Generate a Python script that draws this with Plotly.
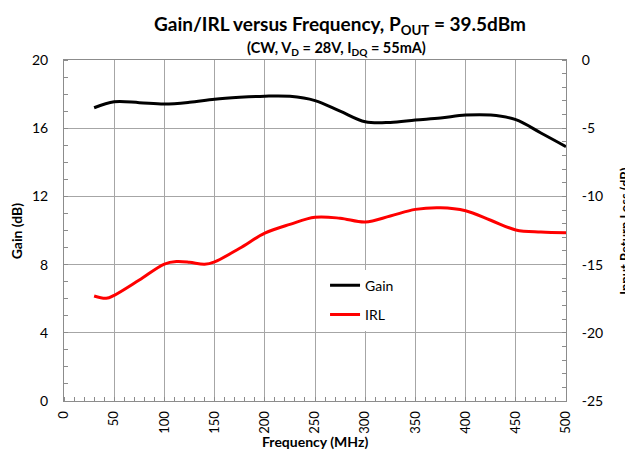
import plotly.graph_objects as go

# ---- data ----
gain_freq = [30, 50, 75, 100, 125, 150, 175, 200, 225, 250, 275, 300, 325, 350, 375, 400, 425, 450, 475, 500]
gain_db = [17.2, 17.55, 17.5, 17.42, 17.52, 17.7, 17.81, 17.88, 17.87, 17.62, 17.0, 16.38, 16.34, 16.48, 16.6, 16.77, 16.77, 16.5, 15.72, 14.92]

irl_freq = [30, 42, 50, 75, 100, 112, 125, 140, 150, 175, 200, 225, 250, 275, 300, 325, 350, 375, 400, 425, 450, 475, 500]
irl_db = [-17.3, -17.47, -17.25, -16.13, -14.96, -14.78, -14.83, -14.98, -14.8, -13.8, -12.7, -12.05, -11.53, -11.6, -11.88, -11.44, -10.95, -10.83, -11.05, -11.75, -12.46, -12.61, -12.66]

x_ticks = [0, 50, 100, 150, 200, 250, 300, 350, 400, 450, 500]
gain_ticks = [0, 4, 8, 12, 16, 20]
irl_ticks = [-25, -20, -15, -10, -5, 0]
irl_ticktext = ["-25", "-20", "-15", "-10", "-5", "0"]

FONT = "Lato"
GRID = "#a6a6a6"
LINE = "#8c8c8c"

fig = go.Figure()
fig.add_trace(go.Scatter(x=gain_freq, y=gain_db, name="Gain", mode="lines",
                         line=dict(color="black", width=3, shape="spline"),
                         legendgroup="g1"))
fig.add_trace(go.Scatter(x=irl_freq, y=irl_db, name="IRL", mode="lines",
                         line=dict(color="#ff0000", width=3, shape="spline"),
                         yaxis="y2", legendgroup="g2"))

# the page body has an 8px margin, so the figure is laid out 8px up/left
fig.update_layout(
    width=625, height=447,
    margin=dict(l=56, r=67, t=52, b=54),
    paper_bgcolor="white", plot_bgcolor="white",
    font=dict(family=FONT, size=14, color="black"),
    showlegend=True,
    legend=dict(x=0.52, y=0.385, xanchor="left", yanchor="top",
                bgcolor="white", borderwidth=0, font=dict(size=14),
                traceorder="grouped", tracegroupgap=8),
    xaxis=dict(range=[0, 500], tickvals=x_ticks, tickangle=-90,
               showgrid=True, gridcolor=GRID, gridwidth=1,
               showline=True, linecolor=LINE, linewidth=1, mirror=True,
               ticks="", zeroline=False, ticklabelstandoff=4,
               minor=dict(dtick=10, ticks="inside", ticklen=4, tickcolor=LINE, showgrid=False),
               tickfont=dict(size=13)),
    yaxis=dict(range=[0, 20], tickvals=gain_ticks,
               showgrid=True, gridcolor=GRID, gridwidth=1,
               showline=True, linecolor=LINE, linewidth=1,
               ticks="", zeroline=False, ticklabelstandoff=12,
               minor=dict(dtick=1, ticks="inside", ticklen=4, tickcolor=LINE, showgrid=False),
               tickfont=dict(size=14)),
    yaxis2=dict(range=[-25, 0], tickvals=irl_ticks, ticktext=irl_ticktext,
                overlaying="y", side="right", showgrid=False,
                showline=True, linecolor=LINE, linewidth=1,
                ticks="", zeroline=False, ticklabelstandoff=12,
                minor=dict(dtick=1, ticks="inside", ticklen=4, tickcolor=LINE, showgrid=False),
                tickfont=dict(size=14)),
    annotations=[
        dict(text="<b>Gain/IRL versus Frequency, P<sub>OUT</sub> = 39.5dBm</b>",
             xref="paper", yref="paper", x=0.549, y=1.102, showarrow=False,
             xanchor="center", yanchor="middle", font=dict(size=19)),
        dict(text="<b>(CW, V<sub>D</sub> = 28V, I<sub>DQ</sub> = 55mA)</b>",
             xref="paper", yref="paper", x=0.542, y=1.035, showarrow=False,
             xanchor="center", yanchor="middle", font=dict(size=14.5)),
        dict(text="<b>Frequency (MHz)</b>", xref="paper", yref="paper",
             x=0.5, y=-0.12, showarrow=False, xanchor="center", yanchor="middle",
             font=dict(size=14)),
        dict(text="<b>Gain (dB)</b>", xref="paper", yref="paper", textangle=-90,
             x=-0.094, y=0.5, showarrow=False, xanchor="center", yanchor="middle",
             font=dict(size=14)),
        dict(text="<b>Input Return Loss (dB)</b>", xref="paper", yref="paper", textangle=-90,
             x=1.116, y=0.5, showarrow=False, xanchor="center", yanchor="middle",
             font=dict(size=13)),
    ],
)

fig.write_html("out.html")
